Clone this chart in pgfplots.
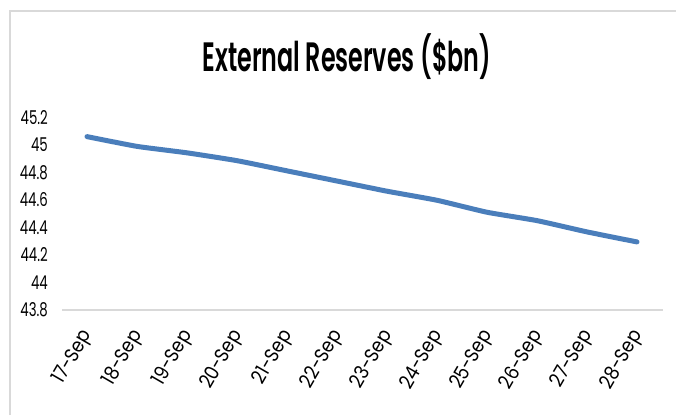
\documentclass[border=0pt]{standalone}
\usepackage{pgfplots}
\pgfplotsset{compat=1.18}
\usepackage{fontspec}
\setmainfont{Poppins}
\newfontfamily\tickfont{Poppins}[FakeStretch=0.7]
\newfontfamily\xtickfont{Poppins}[FakeStretch=0.88]
\newfontfamily\titlefont{Poppins SemiBold}[FakeStretch=0.58]
\definecolor{serie}{HTML}{4A7EBB}
\definecolor{bord}{HTML}{D9D9D9}
\pgfplotstableread{
x y
0 45.061
1 44.990
2 44.943
3 44.886
4 44.812
5 44.738
6 44.664
7 44.598
8 44.511
9 44.450
10 44.368
11 44.295
}\reserves
\begin{document}
\begin{tikzpicture}[x=1pt,y=1pt]
\path[use as bounding box] (-62,-105) rectangle (614,310);
\draw[bord, line width=1.5pt] (-52,-105) -- (-52,299) -- (614,299);
\begin{axis}[
  at={(0,0)}, anchor=south west,
  scale only axis, width=601pt, height=192.5pt,
  xmin=-0.5, xmax=11.52, ymin=43.8, ymax=45.2,
  axis x line*=bottom, axis y line*=left,
  y axis line style={draw=none},
  x axis line style={draw=bord, line width=1.5pt, -},
  major tick length=0pt,
  xtick={0,...,11},
  xticklabels={17-Sep,18-Sep,19-Sep,20-Sep,21-Sep,22-Sep,23-Sep,24-Sep,25-Sep,26-Sep,27-Sep,28-Sep},
  ytick={43.8,44,44.2,44.4,44.6,44.8,45,45.2},
  /pgf/number format/assume math mode=true,
  yticklabel style={anchor=east, inner sep=0pt, xshift=-14pt, font=\tickfont\fontsize{19}{19}\selectfont},
  xticklabel style={xshift=1pt, yshift=-22pt, rotate=60, anchor=east, inner sep=0pt, font=\xtickfont\fontsize{20}{20}\selectfont},
  title={\titlefont External Reserves (\$bn)},
  title style={at={(0.474,1.285)}, anchor=center, font=\fontsize{41}{41}\selectfont, inner sep=0pt},
  clip=false,
]
\addplot[serie, line width=5pt, smooth, tension=0.3, line cap=round] table[x=x,y=y] {\reserves};
\end{axis}
\end{tikzpicture}
\end{document}
